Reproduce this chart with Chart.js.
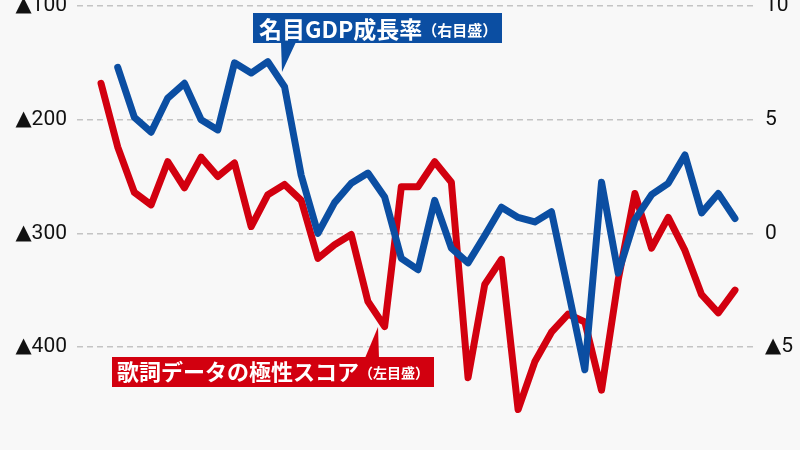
<!DOCTYPE html>
<html>
<head>
<meta charset="utf-8">
<script src="https://cdn.jsdelivr.net/npm/chart.js@4"></script>
<style>
  html, body { margin: 0; padding: 0; background: #f8f8f8; }
  #wrap { width: 800px; height: 450px; position: relative; overflow: hidden; }
</style>
</head>
<body>
<div id="wrap"><canvas id="chart" width="800" height="450"></canvas></div>
<script>
  // period index (no labels shown on the x axis)
  const periods = [0, 1, 2, 3, 4, 5, 6, 7, 8, 9, 10, 11, 12, 13, 14, 15, 16, 17, 18, 19,
    20, 21, 22, 23, 24, 25, 26, 27, 28, 29, 30, 31, 32, 33, 34, 35, 36, 37, 38];

  // lyric polarity score (left scale)
  const lyricScore = [-168, -224, -264, -275, -237, -260, -233, -250, -238, -294,
    -266, -257, -271, -322, -310, -301, -360, -382, -259, -259,
    -237, -255, -427, -345, -323, -455, -413, -387, -371, -378,
    -438, -341, -265, -313, -286, -315, -354, -370, -350];

  // nominal GDP growth rate, % (right scale)
  const gdpGrowth = [null, 7.3, 5.1, 4.45, 5.95, 6.6, 5.0, 4.55, 7.5, 7.05,
    7.55, 6.45, 2.55, 0.0, 1.35, 2.2, 2.65, 1.6, -1.1, -1.6,
    1.45, -0.65, -1.3, -0.1, 1.15, 0.7, 0.5, 0.95, -2.5, -6.0,
    2.25, -1.75, 0.6, 1.7, 2.2, 3.45, 0.9, 1.75, 0.65];

  const leftTicks = [-100, -200, -300, -400];
  const rightTicks = [10, 5, 0, -5];

  const BLUE = "#0b4ea2";
  const RED = "#d2000f";
  const TICK_FONT = "Roboto, 'DejaVu Sans', sans-serif";

  const fmt = (v) => (v < 0 ? "▲" + Math.abs(v) : String(v));

  const callouts = {
    id: "callouts",
    afterDatasetsDraw(chart) {
      const ctx = chart.ctx;
      ctx.save();
      // blue label
      ctx.fillStyle = BLUE;
      ctx.fillRect(253, 13, 249, 30);
      ctx.beginPath();
      ctx.moveTo(281, 42);
      ctx.lineTo(296, 42);
      ctx.lineTo(282, 72);
      ctx.closePath();
      ctx.fill();
      ctx.fillStyle = "#fff";
      ctx.textBaseline = "middle";
      ctx.font = "bold 23px 'Noto Sans CJK JP'";
      ctx.fillText("名目GDP成長率", 259, 29);
      let w = ctx.measureText("名目GDP成長率").width;
      ctx.font = "bold 15px 'Noto Sans CJK JP'";
      ctx.fillText("（右目盛）", 259 + w, 30);

      // red label
      ctx.fillStyle = RED;
      ctx.fillRect(112, 357, 322, 30);
      ctx.beginPath();
      ctx.moveTo(365, 358);
      ctx.lineTo(379, 358);
      ctx.lineTo(378, 327);
      ctx.closePath();
      ctx.fill();
      ctx.fillStyle = "#fff";
      ctx.font = "bold 22px 'Noto Sans CJK JP'";
      ctx.fillText("歌詞データの極性スコア", 117, 372);
      w = ctx.measureText("歌詞データの極性スコア").width;
      ctx.font = "bold 14px 'Noto Sans CJK JP'";
      ctx.fillText("（左目盛）", 117 + w, 373);
      ctx.restore();
    },
  };

  new Chart(document.getElementById("chart"), {
    type: "line",
    data: {
      labels: periods,
      datasets: [
        {
          data: gdpGrowth,
          yAxisID: "yRight",
          borderColor: BLUE,
          borderWidth: 7,
          borderJoinStyle: "round",
          borderCapStyle: "round",
          pointRadius: 0,
          tension: 0,
        },
        {
          data: lyricScore,
          yAxisID: "yLeft",
          borderColor: RED,
          borderWidth: 7,
          borderJoinStyle: "round",
          borderCapStyle: "round",
          pointRadius: 0,
          tension: 0,
        },
      ],
    },
    options: {
      responsive: false,
      animation: false,
      layout: { padding: { top: 6, bottom: 0, left: 0, right: 0 } },
      plugins: {
        legend: { display: false },
        tooltip: { enabled: false },
      },
      scales: {
        x: {
          type: "linear",
          display: false,
          min: -1.44,
          max: 39.32,
        },
        yLeft: {
          position: "left",
          min: -490.6,
          max: -100,
          afterBuildTicks(axis) {
            axis.ticks = leftTicks.map((v) => ({ value: v }));
          },
          afterFit(axis) {
            axis.width = 77;
            axis.paddingTop = 0;
            axis.paddingBottom = 0;
          },
          grid: {
            color: "#c4c4c4",
            lineWidth: 1.5,
            drawTicks: false,
          },
          border: { display: false, dash: [6, 4] },
          ticks: {
            padding: 10,
            color: "#111",
            font: { family: TICK_FONT, size: 21 },
            callback: (v) => fmt(v),
          },
        },
        yRight: {
          position: "right",
          min: -9.53,
          max: 10,
          afterBuildTicks(axis) {
            axis.ticks = rightTicks.map((v) => ({ value: v }));
          },
          afterFit(axis) {
            axis.width = 43;
            axis.paddingTop = 0;
            axis.paddingBottom = 0;
          },
          border: { display: false },
          grid: { display: false, drawTicks: false },
          ticks: {
            padding: 8,
            color: "#111",
            font: { family: TICK_FONT, size: 21 },
            callback: (v) => fmt(v),
          },
        },
      },
    },
    plugins: [callouts],
  });
</script>
</body>
</html>
